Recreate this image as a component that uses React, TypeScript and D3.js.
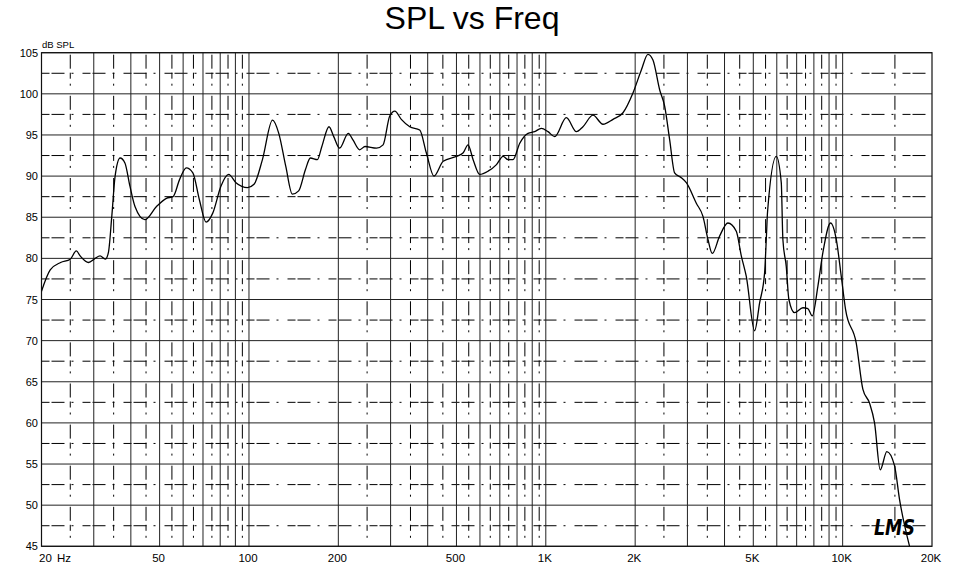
import React from "react"
import * as d3 from "d3"

// frequency response (Hz, dB SPL)
const FREQ = [
  20, 21.4, 23.2, 25.0, 26.2, 27.0, 28.8, 30.3, 31.5, 32.8, 33.6, 34.5, 35.4, 36.8, 38.2, 39.7,
  41.3, 44.6, 48.8, 52.7, 55.5, 58.4, 61.5, 64.7, 68.1, 71.7, 75.5, 80.5, 85.4, 90.4, 98.9,
  104, 111, 120, 126, 133, 140, 147, 155, 161, 170, 176, 186, 193, 202, 216, 224, 236, 246,
  269, 283, 298, 310, 326, 348, 376, 396, 420, 451, 500, 526, 547, 569, 599, 639, 682, 718,
  746, 775, 817, 871, 917, 966, 1017, 1071, 1173, 1268, 1334, 1442, 1558, 1684, 1820, 1966,
  2098, 2208, 2296, 2418, 2514, 2614, 2716, 2860, 2974, 3214, 3384, 3518, 3638, 3850, 4106,
  4382, 4556, 4736, 5052, 5252, 5458, 5530, 5586, 5976, 6212, 6290, 6458, 6590, 6888, 7346,
  7636, 7900, 8252, 8578, 9106, 9518, 9894, 10228, 11112, 11696, 12320, 12808, 13386, 14088,
  14954, 15546, 16806,
]
const SPL = [
  76.0, 78.6, 79.5, 79.9, 80.9, 80.3, 79.5, 80.0, 80.3, 79.9, 80.7, 85.1, 90.0, 92.2, 91.6, 88.8,
  86.3, 84.7, 86.3, 87.3, 87.5, 89.6, 91.0, 90.4, 87.1, 84.4, 85.5, 88.8, 90.2, 89.2, 88.6,
  89.0, 92.0, 96.8, 95.2, 91.2, 87.8, 88.2, 90.8, 92.2, 92.0, 93.6, 96.0, 94.8, 93.4, 95.2, 94.4, 93.2, 93.6,
  93.4, 93.8, 97.3, 97.9, 96.9, 96.0, 95.6, 92.8, 90.0, 91.8, 92.4, 92.8, 93.8, 92.0, 90.2, 90.6, 91.4, 92.4,
  92.0, 92.0, 94.0, 95.2, 95.4, 95.8, 95.4, 94.8, 97.1, 95.4, 96.0, 97.4, 96.3, 96.9, 97.7, 100.1,
  102.9, 104.8, 104.1, 100.5, 98.5, 94.4, 90.4, 89.8, 89.2, 86.7, 85.1, 82.3, 80.6, 82.7, 84.3,
  83.3, 80.3, 77.8, 71.2, 74.6, 78.2, 82.3, 85.7, 92.4, 89.2, 82.3, 79.0, 75.0, 73.4, 74.0,
  73.9, 73.0, 76.6, 80.7, 84.3, 82.3, 77.8, 73.8, 69.7, 64.1, 62.4, 60.0, 54.3, 56.5,
  54.8, 50.7, 45.0,
]

const Y_TICKS = [45, 50, 55, 60, 65, 70, 75, 80, 85, 90, 95, 100, 105]
const X_LABEL_FREQS = [50, 100, 200, 500, 1000, 2000, 5000, 10000, 20000]
const X_LABELS = ["50", "100", "200", "500", "1K", "2K", "5K", "10K", "20K"]

const W = 958
const H = 565
const LEFT = 41.5
const RIGHT = 932
const TOP = 52.7
const BOTTOM = 546.3
const FONT = "'Liberation Sans', Arial, sans-serif"

const x = d3.scaleLog().domain([20, 20000]).range([LEFT, RIGHT])
const y = d3.scaleLinear().domain([45, 105]).range([BOTTOM, TOP])

// solid grid at 30..100, 200..1K, 2K..10K; dash-dot halfway lines
const solidFreqs: number[] = []
const midFreqs: number[] = []
;[10, 100, 1000].forEach((dec) => {
  d3.range(2, 11).forEach((m) => {
    if (dec * m > 20) solidFreqs.push(dec * m)
    if (dec * m + dec / 2 < 20000 && m < 10) midFreqs.push(dec * m + dec / 2)
  })
})
midFreqs.push(15000)

const App = () => {
  const pts = FREQ.map((f, i) => [f, SPL[i]] as [number, number])
  const line = d3
    .line<[number, number]>()
    .x((d) => x(d[0]))
    .y((d) => y(d[1]))
    .curve(d3.curveMonotoneX)

  const halfSteps = Y_TICKS.slice(0, -1).map((v) => v + 2.5)

  return (
    <svg
      width={W}
      height={H}
      style={{ position: "absolute", left: 0, top: 0, background: "#fff" }}
    >
      <defs>
        <clipPath id="plot-clip">
          <rect x={LEFT} y={TOP} width={RIGHT - LEFT} height={BOTTOM - TOP} />
        </clipPath>
      </defs>

      <text x={472} y={29} textAnchor="middle" fontFamily={FONT} fontSize={32}>
        SPL vs Freq
      </text>

      {/* horizontal grid */}
      {Y_TICKS.map((v) => (
        <line key={"h" + v} x1={LEFT} x2={RIGHT} y1={y(v)} y2={y(v)} stroke="#222" strokeWidth={1} />
      ))}
      {halfSteps.map((v) => (
        <line
          key={"hd" + v}
          x1={LEFT}
          x2={RIGHT}
          y1={y(v)}
          y2={y(v)}
          stroke="#000"
          strokeWidth={1}
          strokeDasharray="8 2 13 7 2 9"
        />
      ))}

      {/* vertical grid */}
      {solidFreqs.map((f) => (
        <line key={"v" + f} x1={x(f)} x2={x(f)} y1={TOP} y2={BOTTOM} stroke="#222" strokeWidth={1} />
      ))}
      {midFreqs.map((f) => (
        <line
          key={"vd" + f}
          x1={x(f)}
          x2={x(f)}
          y1={TOP}
          y2={BOTTOM}
          stroke="#000"
          strokeWidth={1}
          strokeDasharray="0 2 14 4 6 5 2 8.1"
        />
      ))}

      <rect x={LEFT} y={TOP} width={RIGHT - LEFT} height={BOTTOM - TOP} fill="none" stroke="#111" strokeWidth={1.2} />

      <path d={line(pts) || ""} fill="none" stroke="#000" strokeWidth={1.3} clipPath="url(#plot-clip)" />

      {/* axes labels */}
      <text x={42} y={47.5} fontFamily={FONT} fontSize={9.5}>
        dB SPL
      </text>
      {Y_TICKS.map((v) => (
        <text key={"yl" + v} x={38} y={y(v) + 4} textAnchor="end" fontFamily={FONT} fontSize={11}>
          {v}
        </text>
      ))}
      <text x={39} y={561.5} fontFamily={FONT} fontSize={11.5}>
        20
      </text>
      <text x={57} y={561.5} fontFamily={FONT} fontSize={11.5}>
        Hz
      </text>
      {X_LABEL_FREQS.map((f, i) => (
        <text key={"xl" + f} x={x(f) - 1} y={561.5} textAnchor="middle" fontFamily={FONT} fontSize={11.5}>
          {X_LABELS[i]}
        </text>
      ))}

      <text
        x={874}
        y={535}
        fontFamily="'DejaVu Sans', sans-serif"
        fontSize={22}
        fontWeight="bold"
        fontStyle="italic"
        textLength={41}
        lengthAdjust="spacingAndGlyphs"
      >
        LMS
      </text>
    </svg>
  )
}

export default App
